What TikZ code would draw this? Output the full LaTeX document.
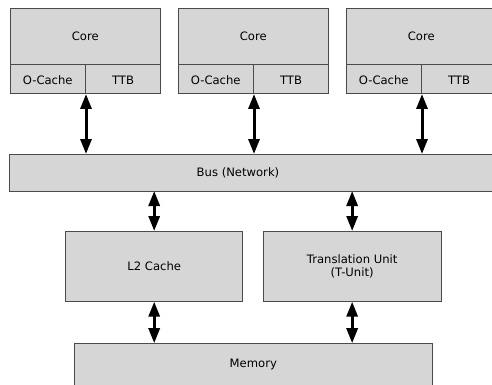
\documentclass[tikz,border=0pt]{standalone}
\usepackage{fontspec}
\setmainfont{DejaVu Sans}
\usetikzlibrary{arrows.meta}
\definecolor{boxfill}{RGB}{214,214,214}
\definecolor{boxline}{RGB}{75,75,75}
\tikzset{
  lbl/.style={font=\fontsize{11.6}{15}\selectfont},
  cell/.style={draw=boxline, fill=boxfill, line width=1pt, rectangle, inner sep=0pt, lbl, align=center},
  biarrow/.style={line width=3pt, {Triangle[length=15pt,width=11pt]}-{Triangle[length=15pt,width=11pt]}, shorten <=-0.5pt, shorten >=-0.5pt}
}
\begin{document}
\begin{tikzpicture}[x=1pt,y=-1pt]
\useasboundingbox (0,0) rectangle (492,385);
\clip (0,0) rectangle (492,385);
% cores
\foreach \i/\dx in {1/0,2/168,3/336}{
  \node[cell, minimum width=150.5pt, minimum height=55.3pt] (core\i) at (85.25+\dx,36.65) {Core};
  \node[cell, minimum width=75.5pt, minimum height=29.7pt, text depth=0pt, text height=10pt] (oc\i) at (47.75+\dx,79.15) {O-Cache};
  \node[cell, minimum width=75pt, minimum height=29.7pt, text depth=0pt, text height=10pt] (ttb\i) at (123+\dx,79.15) {TTB};
}
% bus
\node[cell, minimum width=500pt, minimum height=37pt, anchor=north west] (bus) at (9,153.5) {};
\node[lbl] (bustext) at (238,172.5) {Bus (Network)};
% L2 and T-unit
\node[cell, minimum width=177pt, minimum height=70.7pt] (l2) at (154.2,266.35) {L2 Cache};
\node[cell, minimum width=177.7pt, minimum height=70.7pt] (tu) at (352.15,266.35) {\raisebox{-1.5pt}{Translation Unit}\\(T-Unit)};
% memory
\node[cell, minimum width=358pt, minimum height=60pt, anchor=north west] (mem) at (74.3,342.7) {};
\node[lbl] (memtext) at (253.3,364.5) {Memory};
% arrows cores <-> bus
\foreach \i in {1,2,3}{
  \draw[biarrow] (oc\i.south east) -- (oc\i.south east |- bus.north);
}
% bus <-> L2, T-unit
\draw[biarrow] (bus.south -| l2.north) -- (l2.north);
\draw[biarrow] (bus.south -| tu.north) -- (tu.north);
% L2, T-unit <-> memory
\draw[biarrow] (l2.south) -- (l2.south |- mem.north);
\draw[biarrow] (tu.south) -- (tu.south |- mem.north);
\end{tikzpicture}
\end{document}
